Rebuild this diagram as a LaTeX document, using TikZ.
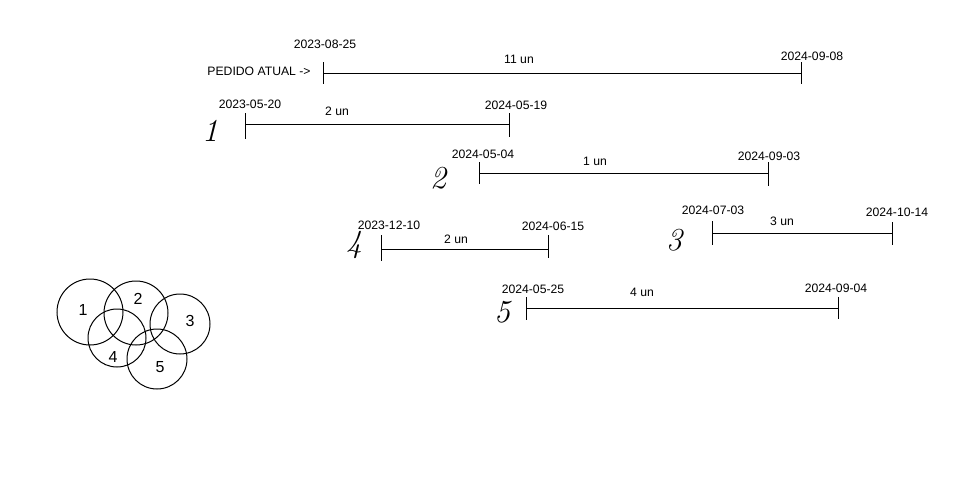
\documentclass[tikz,border=0pt]{standalone}
\usepackage{fontspec}
\newfontfamily\arial{Liberation Sans}
\tikzset{
  lbl/.style={font=\arial\fontsize{12.2}{14}\selectfont, inner sep=0pt},
  numlbl/.style={font=\arial\fontsize{16}{18}\selectfont, inner sep=0pt},
  hand/.style={font=\itshape\fontsize{32}{32}\selectfont, inner sep=0pt},
  bar/.style={line width=1pt},
  venn/.style={draw, circle, line width=1pt, inner sep=0pt},
}
\begin{document}
\begin{tikzpicture}[x=1pt, y=-1pt]
    \useasboundingbox (0,0) rectangle (962,501);

    % pedido atual
    \coordinate (p0a) at (323,73);
    \coordinate (p0b) at (801,73);
    \draw[bar] (p0a) -- (p0b);
    \draw[bar] ([yshift=11]p0a) -- ([yshift=-11]p0a);
    \draw[bar] ([yshift=11]p0b) -- ([yshift=-11]p0b);
    \node[lbl] (d0a) at (325,44) {2023-08-25};
    \node[lbl] (d0b) at (812,56) {2024-09-08};
    \node[lbl] (q0) at (519,59) {11 un};
    \node[lbl] (atual) at (259,71) {PEDIDO ATUAL ->};

    % 1
    \coordinate (p1a) at (245,124);
    \coordinate (p1b) at (509,124);
    \draw[bar] (p1a) -- (p1b);
    \draw[bar] ([yshift=11]p1a) -- ([yshift=-15]p1a);
    \draw[bar] ([yshift=11]p1b) -- ([yshift=-13]p1b);
    \node[lbl] (d1a) at (250,104) {2023-05-20};
    \node[lbl] (d1b) at (516,105) {2024-05-19};
    \node[lbl] (q1) at (337,111) {2 un};
    \node[hand] (n1) at (210,131) {1};

    % 2
    \coordinate (p2a) at (479,173);
    \coordinate (p2b) at (768,173);
    \draw[bar] (p2a) -- (p2b);
    \draw[bar] ([yshift=11]p2a) -- ([yshift=-11]p2a);
    \draw[bar] ([yshift=11]p2b) -- ([yshift=-13]p2b);
    \node[lbl] (d2a) at (483,154) {2024-05-04};
    \node[lbl] (d2b) at (769,156) {2024-09-03};
    \node[lbl] (q2) at (595,161) {1 un};
    \node[hand] (n2) at (438,178) {2};

    % 4
    \coordinate (p4a) at (381,249);
    \coordinate (p4b) at (548,249);
    \draw[bar] (p4a) -- (p4b);
    \draw[bar] ([yshift=14]p4a) -- ([yshift=-12]p4a);
    \draw[bar] ([yshift=14]p4b) -- ([yshift=-9]p4b);
    \node[lbl] (d4a) at (389,225) {2023-12-10};
    \node[lbl] (d4b) at (553,226) {2024-06-15};
    \node[lbl] (q4) at (456,239) {2 un};
    \node[hand] (n4) at (354,245) {4};

    % 3
    \coordinate (p3a) at (712,233);
    \coordinate (p3b) at (892,233);
    \draw[bar] (p3a) -- (p3b);
    \draw[bar] ([yshift=12]p3a) -- ([yshift=-12]p3a);
    \draw[bar] ([yshift=11]p3b) -- ([yshift=-12]p3b);
    \node[lbl] (d3a) at (713,210) {2024-07-03};
    \node[lbl] (d3b) at (897,212) {2024-10-14};
    \node[lbl] (q3) at (782,221) {3 un};
    \node[hand] (n3) at (674,240) {3};

    % 5
    \coordinate (p5a) at (526,308);
    \coordinate (p5b) at (838,308);
    \draw[bar] (p5a) -- (p5b);
    \draw[bar] ([yshift=11]p5a) -- ([yshift=-12]p5a);
    \draw[bar] ([yshift=11]p5b) -- ([yshift=-11]p5b);
    \node[lbl] (d5a) at (533,289) {2024-05-25};
    \node[lbl] (d5b) at (836,288) {2024-09-04};
    \node[lbl] (q5) at (642,292) {4 un};
    \node[hand] (n5) at (502,312) {5};

    % circulos
    \node[venn, minimum size=66] (c1) at (90,312) {};
    \node[venn, minimum size=64] (c2) at (136,313) {};
    \node[venn, minimum size=60] (c3) at (180,324) {};
    \node[venn, minimum size=58] (c4) at (117,338) {};
    \node[venn, minimum size=60] (c5) at (157,359) {};
    \node[numlbl] (t1) at (83,310) {1};
    \node[numlbl] (t2) at (138,299) {2};
    \node[numlbl] (t3) at (190,321) {3};
    \node[numlbl] (t4) at (113,357) {4};
    \node[numlbl] (t5) at (160,367) {5};
\end{tikzpicture}
\end{document}
